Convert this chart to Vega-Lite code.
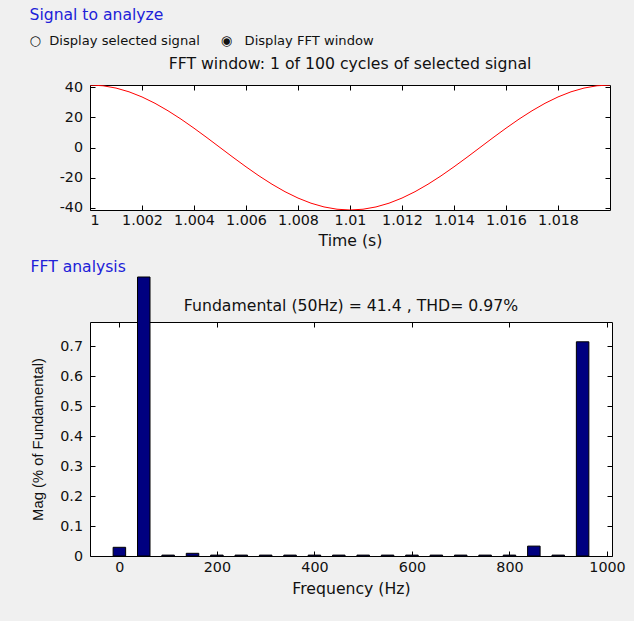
{
  "$schema": "https://vega.github.io/schema/vega-lite/v6.json",
  "background": "#f0f0f0",
  "padding": {"left": 23, "top": 8, "right": 8, "bottom": 24},
  "spacing": 11,
  "config": {
    "font": "DejaVu Sans",
    "locale": {"number": {"decimal": ".", "thousands": ",", "grouping": [3], "currency": ["$", ""], "minus": "-"}},
    "view": {"stroke": "#000000", "strokeWidth": 1, "fill": "#ffffff"},
    "axis": {
      "domain": false, "grid": false,
      "labelFont": "DejaVu Sans", "labelFontSize": 14.3, "labelColor": "#111111",
      "tickColor": "#000000", "tickSize": -5, "tickWidth": 1,
      "titleFont": "DejaVu Sans", "titleFontSize": 15.7, "titleFontWeight": "normal", "titleColor": "#111111"
    },
    "title": {"font": "DejaVu Sans", "fontWeight": "normal", "color": "#111111", "fontSize": 15.7}
  },
  "vconcat": [
    {
      "title": {
        "text": "Signal to analyze", "anchor": "start", "color": "#2020d8", "fontSize": 15.6, "dx": 6, "offset": 8,
        "subtitle": "○\u00a0\u00a0Display selected signal\u00a0\u00a0\u00a0\u00a0\u00a0◉\u00a0\u00a0\u00a0Display FFT window",
        "subtitleColor": "#111111", "subtitleFont": "DejaVu Sans", "subtitleFontSize": 13.1, "subtitlePadding": 11
      },
      "vconcat": [
        {
          "width": 520, "height": 125,
          "title": {"text": "FFT window: 1 of 100 cycles of selected signal", "anchor": "middle", "offset": 7},
          "data": {"values": [
            {"t": 1.0000, "v": 41.40}, {"t": 1.0005, "v": 40.89}, {"t": 1.0010, "v": 39.37}, {"t": 1.0015, "v": 36.89},
            {"t": 1.0020, "v": 33.49}, {"t": 1.0025, "v": 29.27}, {"t": 1.0030, "v": 24.33}, {"t": 1.0035, "v": 18.80},
            {"t": 1.0040, "v": 12.79}, {"t": 1.0045, "v": 6.48}, {"t": 1.0050, "v": 0.00}, {"t": 1.0055, "v": -6.48},
            {"t": 1.0060, "v": -12.79}, {"t": 1.0065, "v": -18.80}, {"t": 1.0070, "v": -24.33}, {"t": 1.0075, "v": -29.27},
            {"t": 1.0080, "v": -33.49}, {"t": 1.0085, "v": -36.89}, {"t": 1.0090, "v": -39.37}, {"t": 1.0095, "v": -40.89},
            {"t": 1.0100, "v": -41.40}, {"t": 1.0105, "v": -40.89}, {"t": 1.0110, "v": -39.37}, {"t": 1.0115, "v": -36.89},
            {"t": 1.0120, "v": -33.49}, {"t": 1.0125, "v": -29.27}, {"t": 1.0130, "v": -24.33}, {"t": 1.0135, "v": -18.80},
            {"t": 1.0140, "v": -12.79}, {"t": 1.0145, "v": -6.48}, {"t": 1.0150, "v": 0.00}, {"t": 1.0155, "v": 6.48},
            {"t": 1.0160, "v": 12.79}, {"t": 1.0165, "v": 18.80}, {"t": 1.0170, "v": 24.33}, {"t": 1.0175, "v": 29.27},
            {"t": 1.0180, "v": 33.49}, {"t": 1.0185, "v": 36.89}, {"t": 1.0190, "v": 39.37}, {"t": 1.0195, "v": 40.89},
            {"t": 1.0200, "v": 41.40}
          ]},
          "layer": [
            {
              "mark": {"type": "line", "color": "#ff0000", "strokeWidth": 1, "clip": true},
              "encoding": {
                "x": {"field": "t", "type": "quantitative",
                      "scale": {"domain": [1, 1.02], "nice": false, "zero": false},
                      "axis": {"values": [1, 1.002, 1.004, 1.006, 1.008, 1.01, 1.012, 1.014, 1.016, 1.018], "format": "~r",
                               "title": "Time (s)", "labelPadding": 8, "titlePadding": 6}},
                "y": {"field": "v", "type": "quantitative",
                      "scale": {"domain": [-41.4, 41.4], "nice": false, "zero": false},
                      "axis": {"values": [-40, -20, 0, 20, 40], "format": "~r", "title": null,
                               "labelPadding": 12.5, "minExtent": 66, "maxExtent": 66}}
              }
            },
            {
              "mark": {"type": "line", "strokeOpacity": 0, "clip": true},
              "encoding": {
                "x": {"field": "t", "type": "quantitative",
                      "scale": {"domain": [1, 1.02], "nice": false, "zero": false},
                      "axis": {"orient": "top", "values": [1, 1.002, 1.004, 1.006, 1.008, 1.01, 1.012, 1.014, 1.016, 1.018],
                               "labels": false, "title": null}},
                "y": {"field": "v", "type": "quantitative",
                      "scale": {"domain": [-41.4, 41.4], "nice": false, "zero": false},
                      "axis": {"orient": "right", "values": [-40, -20, 0, 20, 40], "labels": false, "title": null}}
              }
            }
          ],
          "resolve": {"axis": {"x": "independent", "y": "independent"}}
        }
      ]
    },
    {
      "title": {"text": "FFT analysis", "anchor": "start", "color": "#2020d8", "fontSize": 15.6, "dx": 1, "offset": 0},
      "vconcat": [
        {
          "width": 522, "height": 234,
          "title": {"text": "Fundamental (50Hz) = 41.4 , THD= 0.97%", "anchor": "middle", "offset": -38},
          "data": {"values": [
            {"freq": 0, "mag": 0.029}, {"freq": 50, "mag": 0.93}, {"freq": 100, "mag": 0.003}, {"freq": 150, "mag": 0.009},
            {"freq": 200, "mag": 0.003}, {"freq": 250, "mag": 0.003}, {"freq": 300, "mag": 0.003}, {"freq": 350, "mag": 0.003},
            {"freq": 400, "mag": 0.003}, {"freq": 450, "mag": 0.003}, {"freq": 500, "mag": 0.003}, {"freq": 550, "mag": 0.003},
            {"freq": 600, "mag": 0.003}, {"freq": 650, "mag": 0.003}, {"freq": 700, "mag": 0.003}, {"freq": 750, "mag": 0.003},
            {"freq": 800, "mag": 0.003}, {"freq": 850, "mag": 0.033}, {"freq": 900, "mag": 0.003}, {"freq": 950, "mag": 0.714}
          ]},
          "layer": [
            {
              "mark": {"type": "bar", "color": "#000080", "stroke": "#000000", "strokeWidth": 1, "size": 12.5, "clip": false},
              "encoding": {
                "x": {"field": "freq", "type": "quantitative",
                      "scale": {"domain": [-50, 1000], "nice": false, "zero": false},
                      "axis": {"values": [0, 200, 400, 600, 800, 1000], "format": "~r", "title": "Frequency (Hz)",
                               "labelPadding": 9, "titlePadding": 7}},
                "y": {"field": "mag", "type": "quantitative",
                      "scale": {"domain": [0, 0.78], "nice": false, "zero": false},
                      "axis": {"values": [0, 0.1, 0.2, 0.3, 0.4, 0.5, 0.6, 0.7], "format": "~r",
                               "title": "Mag (% of Fundamental)", "titleFont": "Liberation Sans", "titleFontSize": 14.8,
                               "labelPadding": 12.5, "minExtent": 31, "maxExtent": 31, "titlePadding": 14}}
              }
            },
            {
              "mark": {"type": "bar", "opacity": 0, "size": 12.5, "clip": true},
              "encoding": {
                "x": {"field": "freq", "type": "quantitative",
                      "scale": {"domain": [-50, 1000], "nice": false, "zero": false},
                      "axis": {"orient": "top", "values": [0, 200, 400, 600, 800, 1000], "labels": false, "title": null}},
                "y": {"field": "mag", "type": "quantitative",
                      "scale": {"domain": [0, 0.78], "nice": false, "zero": false},
                      "axis": {"orient": "right", "values": [0, 0.1, 0.2, 0.3, 0.4, 0.5, 0.6, 0.7], "labels": false, "title": null}}
              }
            }
          ],
          "resolve": {"axis": {"x": "independent", "y": "independent"}}
        }
      ]
    }
  ]
}
